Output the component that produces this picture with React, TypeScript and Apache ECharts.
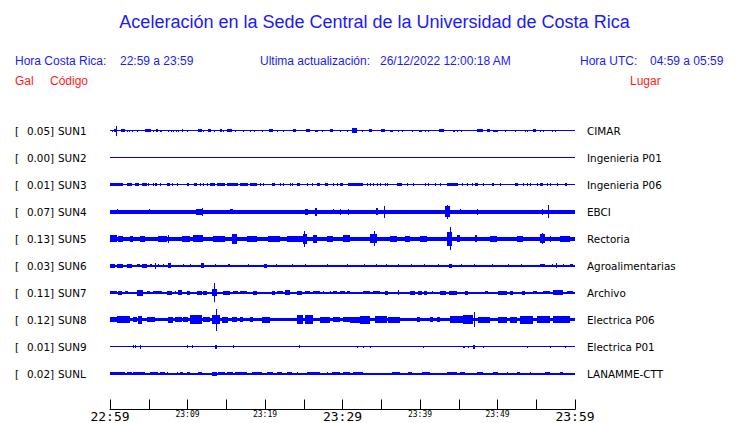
import React, { useEffect, useRef } from "react";
import * as echarts from "echarts";

// ---- data ----
const TIME_LABELS = ["22:59", "23:09", "23:19", "23:29", "23:39", "23:49", "23:59"];
const CODES = ["SUN1", "SUN2", "SUN3", "SUN4", "SUN5", "SUN6", "SUN7", "SUN8", "SUN9", "SUNL"];
const PEAKS = ["0.05", "0.00", "0.01", "0.07", "0.13", "0.03", "0.11", "0.12", "0.01", "0.02"];
const PLACES = ["CIMAR", "Ingenieria P01", "Ingenieria P06", "EBCI", "Rectoria", "Agroalimentarias", "Archivo", "Electrica P06", "Electrica P01", "LANAMME-CTT"];
// background (continuous) half-amplitude of each trace, in row units
const BASE = [0.02, 0.02, 0.02, 0.07, 0.075, 0.037, 0.037, 0.063, 0.02, 0.037];

// events: [startMinute, endMinute, halfAmplitude (row units)]
const SUN1 = [[0.22,0.22,.04],[0.52,0.94,.056],[0.77,0.77,.185],[1.38,1.9,.056],[2.15,2.15,.04],[2.45,2.45,.04],[2.8,2.8,.04],[3.44,3.44,.04],[4.52,5.25,.056],[5.59,5.59,.04],[5.93,6.23,.056],[6.45,6.67,.04],[7.52,7.52,.04],[7.83,7.83,.04],[8.17,8.17,.04],[8.51,8.51,.04],[8.73,8.73,.04],[9.25,9.46,.056],[9.89,9.89,.04],[11.39,11.83,.056],[12.04,12.04,.04],[12.68,12.99,.056],[13.42,13.42,.04],[14.19,14.41,.056],[14.62,14.62,.04],[15.05,15.7,.056],[16.13,16.13,.04],[17.12,17.12,.04],[18.06,18.06,.04],[18.61,18.61,.04],[19.57,19.78,.04],[20.55,21.07,.056],[21.5,21.5,.04],[22.36,22.36,.04],[23.65,23.99,.056],[25.28,25.8,.056],[26.45,26.87,.04],[27.31,27.31,.04],[28.38,28.81,.056],[29.67,29.67,.04],[30.53,30.53,.04],[31.18,31.9,.09],[32.47,32.47,.04],[33.45,33.76,.056],[34.96,35.48,.056],[36.12,36.55,.04],[37.11,37.11,.04],[37.67,37.67,.04],[38.92,38.92,.04],[39.9,40.21,.04],[40.64,40.64,.04],[41.06,41.06,.04],[42.48,43.12,.056],[44.29,44.51,.04],[44.8,44.8,.04],[45.24,45.24,.04],[47.3,48.16,.056],[48.59,49.02,.056],[49.45,50.09,.04],[50.96,50.96,.04],[52.25,52.25,.04],[53.54,53.54,.04],[53.83,53.83,.04],[54.53,54.92,.056],[55.47,55.47,.04],[55.9,55.9,.04],[56.98,56.98,.04],[57.41,57.41,.04]];
const SUN2: number[][] = [];
const SUN3 = [[0,1.72,.056],[2.15,2.8,.056],[3.23,3.78,.056],[4.09,4.73,.056],[4.94,4.94,.056],[5.59,5.59,.056],[5.81,6.02,.056],[6.45,6.45,.056],[7.31,7.74,.056],[7.96,7.96,.056],[8.6,8.6,.056],[9.89,9.89,.056],[10.1,10.1,.056],[10.87,11.18,.056],[11.61,11.61,.056],[12.04,12.04,.056],[12.47,12.47,.056],[12.9,13.55,.056],[13.76,14.84,.056],[15.05,16.55,.056],[16.77,17.84,.056],[18.06,18.92,.056],[19.35,19.35,.056],[19.78,19.78,.056],[20.86,21.29,.056],[21.94,21.94,.056],[22.36,22.36,.056],[23.22,23.22,.056],[23.44,23.44,.056],[24.08,24.51,.056],[25.37,25.37,.056],[26.02,26.23,.056],[26.66,27.09,.056],[27.74,28.16,.056],[28.8,28.8,.056],[29.24,29.24,.056],[29.67,30.1,.056],[30.74,32.68,.056],[33.11,33.11,.056],[33.54,33.54,.056],[33.97,33.97,.056],[34.4,34.4,.056],[34.83,34.83,.056],[35.48,35.48,.056],[35.69,35.69,.056],[36.98,37.63,.056],[38.27,38.27,.056],[39.13,39.13,.056],[40.64,40.64,.056],[41.06,41.06,.056],[41.93,41.93,.056],[42.57,42.57,.056],[43.43,44.93,.056],[45.37,45.37,.056],[46.01,46.01,.056],[46.66,46.66,.056],[47.09,47.51,.056],[48.16,48.16,.056],[49.24,49.24,.056],[49.45,49.45,.056],[50.31,50.31,.056],[52.25,52.67,.056],[53.32,53.32,.056],[53.75,53.75,.056],[54.18,54.18,.056],[55.04,55.04,.056],[55.47,55.9,.056],[56.33,56.33,.056],[56.76,56.76,.056],[57.62,57.62,.056],[58.7,58.91,.056]];
const SUN4 = [[0.9,0.9,.093],[3.23,3.23,.074],[5.03,5.03,.093],[8.77,8.77,.074],[10.06,10.06,.074],[11.1,12.0,.11],[11.87,11.87,.15],[14.84,14.84,.074],[15.48,15.87,.093],[16.77,16.77,.074],[18.32,18.32,.074],[19.61,19.61,.074],[25.16,25.54,.11],[26.45,26.71,.155],[27.74,27.74,.074],[28.77,28.77,.093],[29.67,29.67,.11],[30.7,30.7,.11],[34.32,34.58,.13],[35.35,35.35,.22],[36.12,36.12,.074],[37.41,37.41,.074],[39.35,39.35,.074],[40.25,40.25,.074],[43.22,43.87,.2],[43.48,43.48,.25],[45.16,45.16,.093],[45.8,45.8,.074],[47.35,47.35,.11],[49.03,49.03,.074],[50.32,50.32,.074],[51.22,51.22,.074],[53.8,53.8,.074],[55.74,55.87,.11],[56.51,56.51,.235],[58.45,58.45,.074],[59.74,59.74,.074]];
const SUN5 = [[0,0.86,.13],[1.07,1.72,.11],[2.58,3.0,.11],[3.87,4.52,.11],[6.23,7.31,.11],[7.52,7.52,.15],[9.25,10.32,.11],[10.75,12.04,.13],[13.33,14.84,.11],[15.7,16.35,.185],[17.64,18.93,.11],[20.42,21.93,.11],[22.8,24.94,.11],[24.94,25.38,.185],[25.07,25.07,.295],[26.23,26.66,.15],[27.95,28.81,.11],[30.1,30.96,.13],[33.54,34.4,.167],[34.06,34.06,.278],[36.12,36.99,.11],[38.06,38.7,.11],[40,40.86,.11],[43.43,44.08,.26],[43.86,43.86,.425],[44.72,45.15,.13],[47.09,47.31,.13],[49.02,49.89,.11],[52.46,53.32,.11],[55.47,56.12,.167],[55.69,55.69,.204],[56.76,56.76,.11],[58.05,59.34,.11]];
const SUN6 = [[0,0.65,.074],[0.86,1.72,.074],[2.15,2.8,.074],[3.44,3.87,.056],[4.09,4.73,.074],[5.16,5.4,.056],[5.81,5.81,.11],[6.23,6.23,.056],[6.9,6.9,.056],[7.52,7.83,.093],[9.4,9.4,.056],[10.3,10.3,.056],[11.8,12.1,.093],[13.5,13.5,.056],[15.2,15.5,.056],[17.8,17.8,.056],[19.9,20.2,.074],[21.4,21.4,.056],[23.5,23.5,.056],[25.1,25.1,.056],[28.0,28.0,.056],[30.6,30.6,.056],[32.8,32.8,.056],[34.3,34.3,.056],[35.6,35.6,.056],[37.2,37.2,.056],[38.8,38.8,.056],[40.5,40.5,.056],[42.3,42.3,.056],[43.8,44.1,.074],[45.3,45.3,.056],[47.0,47.0,.056],[49.3,49.3,.056],[51.3,51.3,.056],[53.0,53.0,.056],[55.48,56.1,.056],[57.0,57.0,.056],[57.6,57.6,.093],[58.4,58.4,.056],[59.3,59.7,.056]];
const SUN7 = [[0,0.9,.056],[1.03,1.55,.074],[1.94,2.32,.056],[3.48,4.26,.11],[4.77,5.16,.056],[5.55,6.71,.056],[7.35,8.0,.074],[8.39,8.39,.056],[8.77,9.29,.093],[9.93,10.32,.074],[11.22,11.87,.074],[12.0,12.5,.074],[13.16,13.8,.13],[13.46,13.46,.345],[14.58,15.48,.074],[15.87,16.5,.056],[16.77,17.68,.056],[18.45,18.97,.074],[20.9,21.29,.074],[21.55,22.32,.056],[22.58,23.22,.093],[24.13,24.77,.074],[25.16,25.8,.056],[26.19,27.1,.056],[27.48,27.48,.056],[28.39,28.39,.056],[28.77,29.29,.056],[29.67,30.32,.056],[30.58,30.97,.056],[31.2,31.2,.04],[32.64,33.55,.056],[33.93,34.83,.056],[35.48,35.87,.074],[37.16,37.16,.093],[38.7,39.35,.074],[39.74,40.25,.074],[40.51,40.9,.074],[41.55,41.55,.056],[42.58,43.35,.074],[43.74,44.77,.074],[45.8,46.19,.074],[47.35,47.35,.04],[48.39,48.77,.056],[50.06,51.22,.074],[51.61,52.0,.074],[53.16,53.54,.074],[54.58,55.09,.056],[55.87,56.77,.056],[57.16,58.45,.093],[58.97,59.74,.056]];
const SUN8 = [[0,0.9,.093],[0.9,2.58,.13],[2.97,3.48,.093],[3.61,4.13,.15],[4.77,5.81,.093],[7.48,8.13,.11],[8.39,9.29,.093],[9.42,10.06,.093],[10.32,11.87,.167],[12.0,12.9,.093],[13.16,14.19,.167],[13.67,13.67,.415],[14.45,15.22,.11],[15.74,16.38,.093],[16.77,17.16,.093],[18.06,18.45,.093],[19.61,20.64,.11],[24.13,24.9,.167],[25.16,26.19,.167],[27.09,28.38,.11],[28.77,29.67,.093],[30.06,30.96,.093],[30.96,32.25,.11],[32.25,33.54,.15],[34.19,35.74,.13],[35.87,37.41,.11],[39.61,40.0,.093],[41.29,41.67,.093],[42.19,42.58,.093],[43.87,45.54,.13],[45.54,46.83,.167],[47.0,47.0,.278],[47.48,49.03,.11],[50.06,51.22,.11],[51.61,52.51,.11],[52.9,54.58,.15],[55.09,56.77,.13],[57.16,59.35,.13]];
const SUN9 = [[2.97,2.97,.056],[3.23,3.23,.056],[3.87,3.87,.074],[9.93,9.93,.056],[10.58,10.58,.056],[13.55,13.8,.074],[15.87,15.87,.056],[24.39,24.39,.056],[31.86,31.86,.04],[32.64,32.64,.04],[33.55,33.55,.04],[40.38,40.38,.04],[45.55,45.8,.04],[46.2,46.2,.04],[46.83,47.1,.074],[48.1,48.1,.04],[53.8,53.8,.04],[56.76,56.76,.04],[58.7,58.7,.04]];
const SUNL = [[0,1.29,.056],[1.29,1.94,.056],[2.15,2.8,.056],[3.0,4.52,.056],[5.16,6.23,.056],[6.45,7.1,.056],[7.31,7.31,.056],[8.6,8.6,.056],[9.03,9.46,.056],[9.9,10.32,.056],[11.39,11.83,.056],[13.12,13.76,.074],[13.93,14.84,.056],[15.09,15.87,.056],[16.13,17.64,.056],[18.28,19.57,.056],[20.22,20.22,.056],[20.43,21.07,.056],[21.51,22.15,.056],[22.8,23.44,.056],[24.09,24.09,.056],[25.37,27.09,.056],[27.95,27.95,.056],[28.6,29.67,.056],[30.1,30.96,.056],[31.39,32.68,.056],[36.34,37.41,.056],[38.48,38.92,.056],[40.21,41.28,.056],[43.43,44.72,.056],[45.15,45.8,.056],[47.3,48.16,.056],[49.45,50.09,.056],[51.17,51.38,.056],[52.46,52.89,.056],[54.18,54.18,.056],[56.12,56.76,.056],[58.05,58.48,.056]];
const EVENTS = [SUN1, SUN2, SUN3, SUN4, SUN5, SUN6, SUN7, SUN8, SUN9, SUNL];

const BLUE = "#0000ff";
const TXT_BLUE = "#1a1aff";
const RED = "#ff1a1a";

export default function App() {
  const ref = useRef<HTMLDivElement>(null);
  useEffect(() => {
    if (!ref.current) return;
    const chart = echarts.init(ref.current, undefined, { renderer: "svg" });

    const data: number[][] = [];
    CODES.forEach((_, i) => {
      data.push([0, 60, i, BASE[i]]);
      EVENTS[i].forEach((e) => data.push([e[0], e[1], i, e[2]]));
    });

    const renderItem = (params: any, api: any) => {
      const s = api.value(0);
      const e = api.value(1);
      const row = api.value(2);
      const a = api.value(3);
      const p0 = api.coord([s, row]);
      const p1 = api.coord([e, row]);
      const band = api.size([0, 1])[1];
      const h = Math.max(1, Math.round(2 * a * band));
      const x0 = Math.round(p0[0]);
      const x1 = Math.max(x0 + 1, Math.round(p1[0]));
      const y0 = Math.round(p0[1] - h / 2);
      return {
        type: "rect",
        shape: { x: x0, y: y0, width: x1 - x0, height: h },
        style: { fill: BLUE },
      };
    };

    const labelFont = "DejaVu Sans";
    const hdr = (text: string, x: number, y: number, fill: string, align = "left") => ({
      type: "text",
      x,
      y,
      style: {
        text,
        fill,
        fontSize: 12,
        fontFamily: "Liberation Sans",
        textAlign: align,
        textVerticalAlign: "middle",
      },
    });

    chart.setOption({
      animation: false,
      backgroundColor: "#ffffff",
      grid: { left: 110, width: 465, top: 117, height: 270, containLabel: false, outerBoundsMode: "none" },
      xAxis: {
        type: "value",
        min: 0,
        max: 60,
        interval: 5,
        offset: 22.5,
        axisLine: { show: true, lineStyle: { color: "#000", width: 1 } },
        axisTick: { show: true, inside: true, length: 10, lineStyle: { color: "#000", width: 1 } },
        splitLine: { show: false },
        axisLabel: {
          show: true,
          margin: 0,
          hideOverlap: false,
          showMinLabel: true,
          showMaxLabel: true,
          color: "#000",
          formatter: (v: number) => {
            if (v % 10 !== 0) return "";
            const t = TIME_LABELS[v / 10];
            return v % 30 === 0 ? `{big|${t}}` : `{small|${t}}`;
          },
          rich: {
            big: { fontSize: 13, lineHeight: 13, fontFamily: "DejaVu Sans Mono", color: "#000" },
            small: { fontSize: 8, lineHeight: 9, fontFamily: "DejaVu Sans Mono", color: "#000" },
          },
        },
      },
      yAxis: [
        {
          type: "category",
          data: CODES,
          inverse: true,
          position: "left",
          axisLine: { show: false },
          axisTick: { show: false },
          splitLine: { show: false },
          axisLabel: {
            margin: 95,
            align: "left",
            interval: 0,
            formatter: (v: string, idx: number) => `{b|[}{v|${PEAKS[idx]}]}{c|${v}}`,
            rich: {
              b: { width: 12, fontSize: 10.4, fontFamily: labelFont, color: "#000" },
              v: { width: 27, align: "right", fontSize: 10.4, fontFamily: labelFont, color: "#000" },
              c: { padding: [0, 0, 0, 4], fontSize: 10.4, fontFamily: labelFont, color: "#000" },
            },
          },
        },
        {
          type: "category",
          data: PLACES,
          inverse: true,
          position: "right",
          axisLine: { show: false },
          axisTick: { show: false },
          splitLine: { show: false },
          axisLabel: {
            margin: 12,
            align: "left",
            interval: 0,
            fontSize: 10.4,
            fontFamily: labelFont,
            color: "#000",
          },
        },
      ],
      series: [
        {
          type: "custom",
          xAxisIndex: 0,
          yAxisIndex: 0,
          renderItem,
          encode: { x: [0, 1], y: 2 },
          data,
          silent: true,
        },
      ],
      graphic: [
        {
          type: "text",
          x: 374.5,
          y: 22,
          style: {
            text: "Aceleración en la Sede Central de la Universidad de Costa Rica",
            fill: TXT_BLUE,
            fontSize: 18,
            fontFamily: "Liberation Sans",
            textAlign: "center",
            textVerticalAlign: "middle",
          },
        },
        hdr("Hora Costa Rica:", 15, 61, TXT_BLUE),
        hdr("22:59 a 23:59", 120, 61, TXT_BLUE),
        hdr("Ultima actualización:", 260, 61, TXT_BLUE),
        hdr("26/12/2022 12:00:18 AM", 380, 61, TXT_BLUE),
        hdr("Hora UTC:", 580, 61, TXT_BLUE),
        hdr("04:59 a 05:59", 650, 61, TXT_BLUE),
        hdr("Gal", 15, 81, RED),
        hdr("Código", 50, 81, RED),
        hdr("Lugar", 630, 81, RED),
      ],
    });
    return () => chart.dispose();
  }, []);
  return (
    <div
      ref={ref}
      style={{ position: "fixed", left: 0, top: 0, width: 740, height: 423, background: "#fff" }}
    />
  );
}
